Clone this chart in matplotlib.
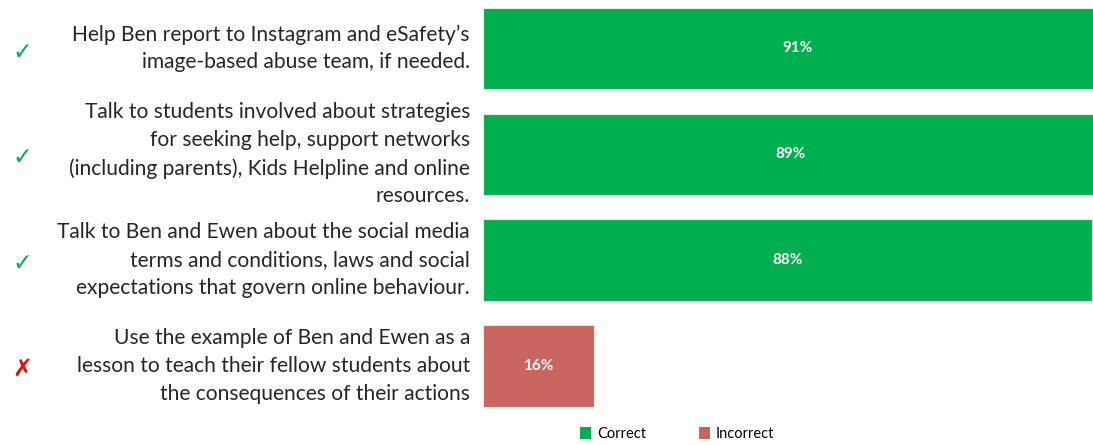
import matplotlib
matplotlib.use("Agg")
import matplotlib.pyplot as plt
from matplotlib.transforms import blended_transform_factory
from matplotlib.patches import Patch

# Response options and share of respondents choosing each one
options = [
    "Help Ben report to Instagram and eSafety\u2019s\nimage-based abuse team, if needed.",
    "Talk to students involved about strategies\nfor seeking help, support networks\n(including parents), Kids Helpline and online\nresources.",
    "Talk to Ben and Ewen about the social media\nterms and conditions, laws and social\nexpectations that govern online behaviour.",
    "Use the example of Ben and Ewen as a\nlesson to teach their fellow students about\nthe consequences of their actions",
]
percent = [91, 89, 88, 16]
is_correct = [True, True, True, False]

GREEN = "#00B050"
RED = "#C96461"

fig = plt.figure(figsize=(10.93, 4.45), dpi=100)
W, H = 1093, 445
ax = fig.add_axes([483 / W, 0, 1 - 483 / W, 1])

ypos = list(range(len(options)))
colors = [GREEN if c else RED for c in is_correct]
ax.barh(ypos, percent, height=0.77, color=colors, edgecolor="#E6EEE6", linewidth=0.8)

ax.set_xlim(0, 88.15)
ax.set_ylim(3.748, -0.458)
ax.axis("off")

for y, v in zip(ypos, percent):
    ax.text(v / 2, y, f"{v}%", ha="center", va="center", color="white",
            fontsize=11, fontweight="bold", family="Lato")

trans = blended_transform_factory(fig.transFigure, ax.transData)
for y, label, ok in zip(ypos, options, is_correct):
    ax.text(470 / W, y, label, transform=trans, ha="right", va="center",
            fontsize=15.1, family="Lato", color="#262626", linespacing=1.48,
            clip_on=False)
    ax.text(22 / W, y + 0.03, "\u2713" if ok else "\u2717", transform=trans,
            ha="center", va="center", fontsize=17, family="DejaVu Sans",
            fontweight="bold", color=GREEN if ok else "#FF0000", clip_on=False)

handles = [Patch(facecolor=GREEN, label="Correct"),
           Patch(facecolor=RED, label="Incorrect")]
fig.legend(handles=handles, loc="center", bbox_to_anchor=(677 / W, 1 - 434 / H),
           ncol=2, frameon=False, handlelength=0.8, handleheight=0.8,
           handletextpad=0.4, columnspacing=3.6, prop={"family": "Lato", "size": 10.5})

fig.savefig("out.png", dpi=100)
